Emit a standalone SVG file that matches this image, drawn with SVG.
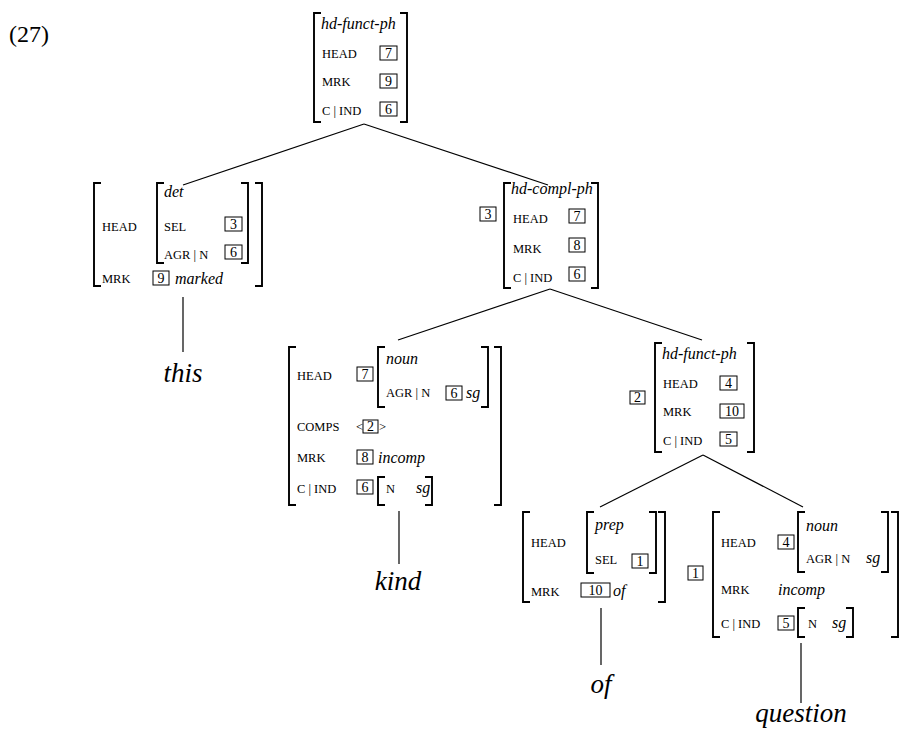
<svg xmlns="http://www.w3.org/2000/svg" width="901" height="731" viewBox="0 0 901 731">
<style>
.bk{fill:none;stroke:#000;stroke-width:1.9}
.bx{fill:none;stroke:#000;stroke-width:1}
.ln{fill:none;stroke:#000;stroke-width:1.2}
text{font-family:"Liberation Serif","Times New Roman",serif;fill:#000}
.k{font-size:12.5px}
.i{font-size:16px;font-style:italic}
.n{font-size:14px;text-anchor:middle}
.w{font-size:27px;font-style:italic;text-anchor:middle}
.ex{font-size:24px}
</style>
<rect width="901" height="731" fill="#fff"/>
<text class="ex" x="9" y="42">(27)</text>

<g id="connectors">
<line class="ln" x1="364" y1="124" x2="183" y2="185"/>
<line class="ln" x1="364" y1="124" x2="548" y2="185"/>
<line class="ln" x1="550" y1="289" x2="398" y2="340"/>
<line class="ln" x1="550" y1="289" x2="702" y2="340"/>
<line class="ln" x1="703" y1="455" x2="600" y2="507"/>
<line class="ln" x1="703" y1="455" x2="803" y2="507"/>
<line class="ln" x1="183" y1="297" x2="183" y2="352"/>
<line class="ln" x1="399" y1="511" x2="399" y2="564"/>
<line class="ln" x1="601" y1="608" x2="601" y2="665"/>
<line class="ln" x1="801" y1="643" x2="801" y2="703"/>
</g>

<g id="n-top">
<path class="bk" d="M321 13H314V122H321M400 13H407V122H400"/>
<text class="i" x="321" y="29">hd-funct-ph</text>
<text class="k" x="322" y="58">HEAD</text>
<rect class="bx" x="380" y="46" width="17" height="14"/><text class="n" x="388.5" y="58">7</text>
<text class="k" x="322" y="86">MRK</text>
<rect class="bx" x="380" y="74" width="17" height="14"/><text class="n" x="388.5" y="86">9</text>
<text class="k" x="322" y="115">C | IND</text>
<rect class="bx" x="380" y="102" width="17" height="14"/><text class="n" x="388.5" y="114">6</text>
</g>

<g id="n-this">
<path class="bk" d="M101 183H94V286H101M255 183H262V286H255"/>
<path class="bk" d="M164 183H157V263H164M241 183H248V263H241"/>
<text class="k" x="102" y="231">HEAD</text>
<text class="i" x="164" y="197">det</text>
<text class="k" x="164" y="231">SEL</text>
<rect class="bx" x="225" y="217" width="17" height="14"/><text class="n" x="233.5" y="229">3</text>
<text class="k" x="164" y="259">AGR | N</text>
<rect class="bx" x="225" y="245" width="17" height="14"/><text class="n" x="233.5" y="257">6</text>
<text class="k" x="102" y="283">MRK</text>
<rect class="bx" x="153" y="271" width="16" height="14"/><text class="n" x="161" y="283">9</text>
<text class="i" x="175" y="284">marked</text>
<text class="w" x="183" y="382">this</text>
</g>

<g id="n-compl">
<rect class="bx" x="480" y="207" width="16" height="14"/><text class="n" x="488" y="219">3</text>
<path class="bk" d="M511 183H504V288H511M591 183H598V288H591"/>
<text class="i" x="511" y="194">hd-compl-ph</text>
<text class="k" x="513" y="223">HEAD</text>
<rect class="bx" x="569" y="209" width="16" height="14"/><text class="n" x="577" y="221">7</text>
<text class="k" x="513" y="253">MRK</text>
<rect class="bx" x="569" y="238" width="16" height="14"/><text class="n" x="577" y="250">8</text>
<text class="k" x="513" y="282">C | IND</text>
<rect class="bx" x="569" y="267" width="16" height="14"/><text class="n" x="577" y="279">6</text>
</g>

<g id="n-kind">
<path class="bk" d="M296 347H289V505H296M494 347H501V505H494"/>
<path class="bk" d="M385 347H378V407H385M481 347H488V407H481"/>
<path class="bk" d="M385 477H378V505H385M425 477H432V505H425"/>
<text class="k" x="297" y="380">HEAD</text>
<rect class="bx" x="357" y="367" width="16" height="14"/><text class="n" x="365" y="379">7</text>
<text class="i" x="386" y="364">noun</text>
<text class="k" x="386" y="397">AGR | N</text>
<rect class="bx" x="446" y="386" width="16" height="14"/><text class="n" x="454" y="398">6</text>
<text class="i" x="466" y="398">sg</text>
<text class="k" x="297" y="431">COMPS</text>
<text class="k" x="356" y="431">&lt;</text>
<rect class="bx" x="363" y="420" width="15" height="13"/><text class="n" x="370.5" y="431">2</text>
<text class="k" x="379" y="431">&gt;</text>
<text class="k" x="297" y="462">MRK</text>
<rect class="bx" x="357" y="450" width="16" height="14"/><text class="n" x="365" y="462">8</text>
<text class="i" x="378" y="463">incomp</text>
<text class="k" x="297" y="493">C | IND</text>
<rect class="bx" x="357" y="480" width="16" height="14"/><text class="n" x="365" y="492">6</text>
<text class="k" x="386" y="493">N</text>
<text class="i" x="416" y="493">sg</text>
<text class="w" x="398" y="590">kind</text>
</g>

<g id="n-funct2">
<rect class="bx" x="630" y="391" width="15" height="13"/><text class="n" x="637.5" y="402">2</text>
<path class="bk" d="M662 343H655V452H662M747 343H754V452H747"/>
<text class="i" x="662" y="359">hd-funct-ph</text>
<text class="k" x="663" y="388">HEAD</text>
<rect class="bx" x="720" y="376" width="17" height="14"/><text class="n" x="728.5" y="388">4</text>
<text class="k" x="663" y="416">MRK</text>
<rect class="bx" x="720" y="404" width="24" height="14"/><text class="n" x="732" y="416">10</text>
<text class="k" x="663" y="445">C | IND</text>
<rect class="bx" x="720" y="432" width="17" height="14"/><text class="n" x="728.5" y="444">5</text>
</g>

<g id="n-of">
<path class="bk" d="M530 512H523V602H530M658 512H665V602H658"/>
<path class="bk" d="M594 512H587V573H594M649 512H656V573H649"/>
<text class="k" x="531" y="547">HEAD</text>
<text class="i" x="595" y="530">prep</text>
<text class="k" x="595" y="564">SEL</text>
<rect class="bx" x="632" y="554" width="16" height="14"/><text class="n" x="640" y="566">1</text>
<text class="k" x="531" y="596">MRK</text>
<rect class="bx" x="581" y="583" width="29" height="14"/><text class="n" x="595.5" y="595">10</text>
<text class="i" x="613" y="596">of</text>
<text class="w" x="601" y="693">of</text>
</g>

<g id="n-question">
<rect class="bx" x="688" y="566" width="15" height="14"/><text class="n" x="695.5" y="578">1</text>
<path class="bk" d="M720 512H713V637H720M891 512H898V637H891"/>
<path class="bk" d="M805 512H798V572H805M881 512H888V572H881"/>
<path class="bk" d="M805 608H798V637H805M846 608H853V637H846"/>
<text class="k" x="721" y="547">HEAD</text>
<rect class="bx" x="778" y="535" width="16" height="14"/><text class="n" x="786" y="547">4</text>
<text class="i" x="806" y="531">noun</text>
<text class="k" x="806" y="563">AGR | N</text>
<text class="i" x="866" y="563">sg</text>
<text class="k" x="721" y="594">MRK</text>
<text class="i" x="778" y="595">incomp</text>
<text class="k" x="721" y="628">C | IND</text>
<rect class="bx" x="778" y="616" width="16" height="14"/><text class="n" x="786" y="628">5</text>
<text class="k" x="808" y="628">N</text>
<text class="i" x="832" y="628">sg</text>
<text class="w" x="801" y="722">question</text>
</g>
</svg>
